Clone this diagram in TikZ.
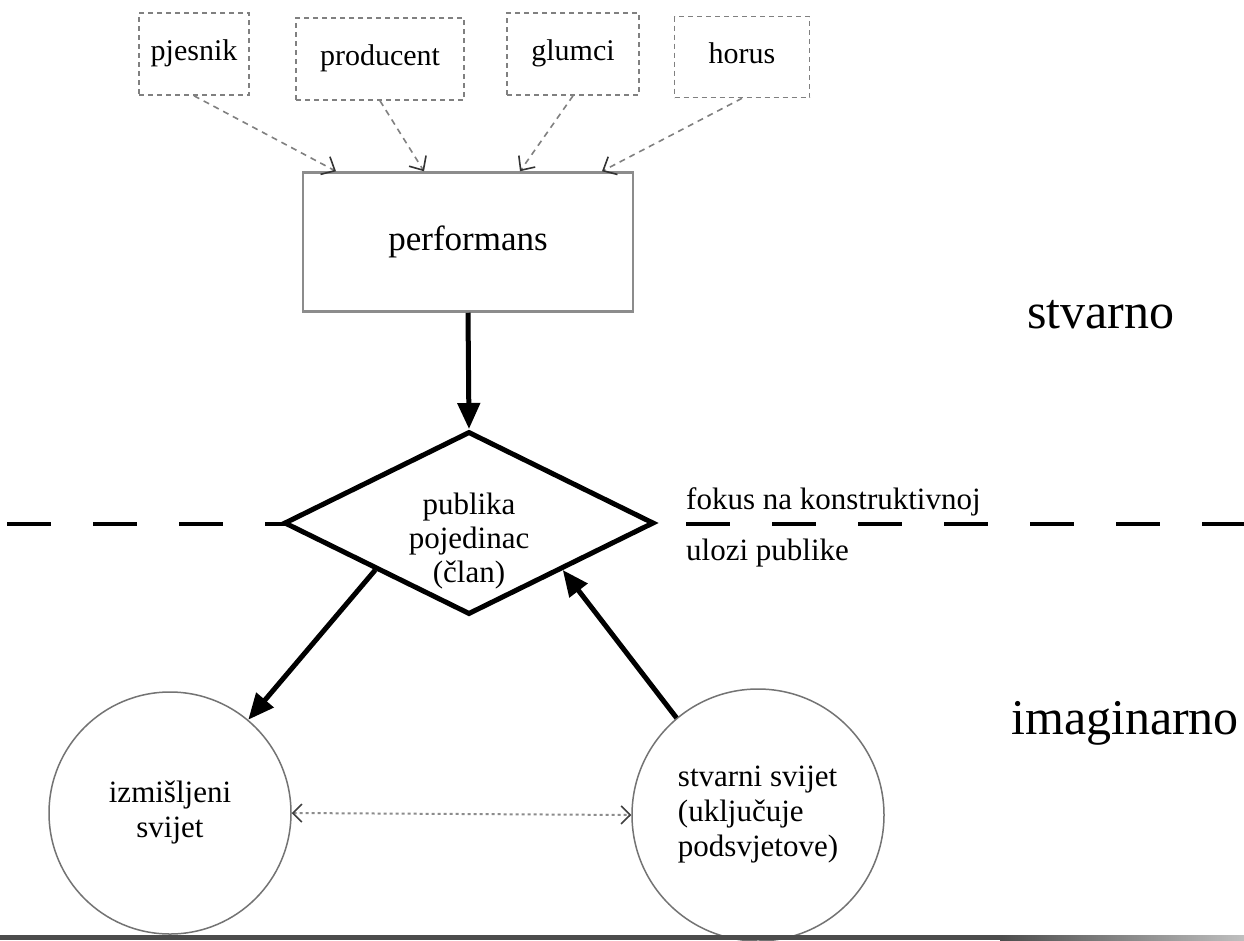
\documentclass[tikz,border=0pt]{standalone}
\usepackage{fontspec}
\setmainfont{Liberation Serif}
\usetikzlibrary{shapes.geometric,arrows.meta,calc}
\begin{document}
\begin{tikzpicture}[x=1pt,y=-1pt,
  txt/.style={font=\fontsize{31}{35}\selectfont, inner sep=0pt},
  srcbox/.style={draw=black!50, dash pattern=on 5pt off 4pt, line width=1.6pt, minimum height=82pt, inner sep=0pt, text height=20pt, text depth=7pt, font=\fontsize{30}{34}\selectfont},
  feed/.style={draw=black!50, dash pattern=on 6pt off 5pt, line width=1.6pt, -{Straight Barb[length=11pt,width=20pt,color=black!80,line width=1.6pt]}},
  heavy/.style={line width=5pt, -{Triangle[length=26pt,width=22pt]}},
  world/.style={circle, draw=black!55, line width=1.5pt, inner sep=0pt, font=\fontsize{31}{35}\selectfont},
  bigword/.style={font=\fontsize{50}{56}\selectfont, inner sep=0pt, anchor=base west},
  split/.style={line width=4pt, dash pattern=on 44pt off 42pt},
  link/.style={draw=black!45, line width=2pt, dash pattern=on 3pt off 3pt, {Straight Barb[length=9pt,width=18pt,color=black!75,line width=1.6pt]}-{Straight Barb[length=9pt,width=18pt,color=black!75,line width=1.6pt]}}
]
\useasboundingbox (0,0) rectangle (1244,940);
\fill[white] (0,0) rectangle (1244,940);

% source boxes
\node[srcbox, minimum width=110pt] (pj) at (194,54) {pjesnik};
\node[srcbox, minimum width=168pt] (pr) at (380,59) {producent};
\node[srcbox, minimum width=132pt] (gl) at (573,54) {glumci};
\node[srcbox, minimum width=135pt, minimum height=81pt] (ho) at (742,57) {horus};

% performans
\node[draw=black!45, line width=2.5pt, minimum width=330pt, minimum height=139pt, inner sep=0pt, font=\fontsize{35}{40}\selectfont] (perf) at (468,242) {performans};

\draw[feed] (pj.south) -- ($(perf.north)+(-132,0)$);
\draw[feed] (pr.south) -- ($(perf.north)+(-44,0)$);
\draw[feed] (gl.south) -- ($(perf.north)+(52,0)$);
\draw[feed] (ho.south) -- ($(perf.north)+(134,0)$);

% dividing line
\draw[split] (7,524) -- (290,524);
\draw[split] (686,524) -- (1244,524);

% diamond
\node[diamond, draw, line width=5pt, fill=white, minimum width=370pt, minimum height=183pt, inner sep=0pt] (dia) at (469,523) {};
\node[txt, align=center, font=\fontsize{31}{34}\selectfont] (diatxt) at (469,541) {publika\\pojedinac\\(član)};

\node[txt, anchor=base west] (fokus) at (686,509) {fokus na konstruktivnoj};
\node[txt, anchor=base west] (ulozi) at (686,560) {ulozi publike};

% worlds
\node[world, minimum size=242pt, align=center] (imag) at (170,813) {izmišljeni\\svijet};
\node[world, minimum size=252pt, align=left] (real) at (758,815) {stvarni svijet\\(uključuje\\podsvjetove)};

\draw[heavy] (perf.south) -- (dia.north);
\draw[heavy] (dia.south west) -- (imag.50);
\draw[heavy] (real.130) -- (dia.south east);
\draw[link] (imag.east) -- (real.west);

% right labels
\node[bigword] (stv) at (1027,328) {stvarno};
\node[bigword] (ima) at (1011,734) {imaginarno};

% bottom rule
\fill[black!70] (0,935) rectangle (1000,940);
\shade[left color=black!70, right color=black!25] (1000,935) rectangle (1244,940);
\end{tikzpicture}
\end{document}
